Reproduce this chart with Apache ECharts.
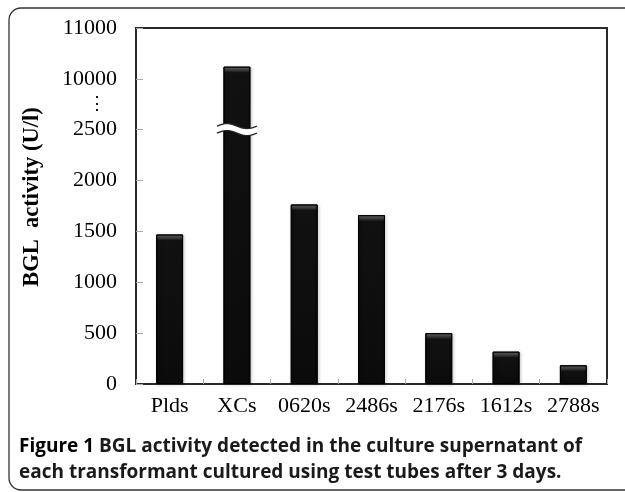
<!DOCTYPE html>
<html><head><meta charset="utf-8">
<script src="https://cdn.jsdelivr.net/npm/echarts@6/dist/echarts.min.js"></script>
<style>html,body{margin:0;padding:0;background:#fff}#c{width:625px;height:492px}</style>
</head><body><div id="c"></div>
<script>
const categories = ['Plds', 'XCs', '0620s', '2486s', '2176s', '1612s', '2788s'];
const activity = [1470, 10240, 1765, 1660, 500, 318, 184];
const tickLabels = ['0', '500', '1000', '1500', '2000', '2500', '10000', '11000'];
const breakLow = 2500, breakHigh = 10000;
const yTitle = 'BGL  activity (U/l)';
const captionBold = 'Figure 1';
const captionLine1 = ' BGL activity detected in the culture supernatant of';
const captionLine2 = 'each transformant cultured using test tubes after 3 days.';

// broken-axis mapping: 0..2500 linear, 2500..10000 squeezed into one step, 10000.. half scale
function toDisplay(v) {
  if (v <= breakLow) return v;
  if (v < breakHigh) return breakLow + (v - breakLow) / (breakHigh - breakLow) * 500;
  return 3000 + (v - breakHigh) * 0.5;
}

const chart = echarts.init(document.getElementById('c'), null, {renderer: 'canvas'});
const serif = '"Liberation Serif","Times New Roman",serif';
const frameColor = '#2a2a2a';
const plotH = 492 - 28 - 108;
const yMax = 3500;

function barItem(v) {
  const d = toDisplay(v);
  const hPx = d / yMax * plotH;
  const s = Math.min(0.5, 6 / hPx);
  return {
    value: d,
    itemStyle: {
      color: {type: 'linear', x: 0, y: 0, x2: 0, y2: 1, colorStops: [
        {offset: 0, color: '#777'}, {offset: s * 0.5, color: '#444'}, {offset: s, color: '#111'}, {offset: 1, color: '#0b0b0b'}]}
    }
  };
}

chart.setOption({
  animation: false,
  backgroundColor: '#fff',
  grid: {left: 136, right: 18, top: 28, bottom: 108, show: true, borderColor: frameColor, borderWidth: 2, backgroundColor: 'transparent'},
  xAxis: {
    type: 'category', data: categories,
    axisLine: {lineStyle: {color: frameColor, width: 2}},
    axisTick: {show: true, inside: true, length: 5, lineStyle: {color: '#aaa'}},
    axisLabel: {color: '#000', fontFamily: serif, fontSize: 22, margin: 11, interval: 0, hideOverlap: false}
  },
  yAxis: {
    type: 'value', min: 0, max: yMax, interval: 500,
    axisLine: {show: true, lineStyle: {color: frameColor, width: 2}},
    axisTick: {show: true, inside: true, length: 7, lineStyle: {color: '#aaa'}},
    splitLine: {show: false},
    axisLabel: {color: '#000', fontFamily: serif, fontSize: 22, margin: 19,
      formatter: v => tickLabels[Math.round(v / 500)]}
  },
  series: [{
    type: 'bar', barWidth: '40%',
    data: activity.map(barItem),
    itemStyle: {borderColor: '#000', borderWidth: 1,
      shadowBlur: 3, shadowColor: 'rgba(0,0,0,0.35)', shadowOffsetX: 1, shadowOffsetY: 1}
  }]
});

// decorations: break mark on XCs bar, ellipsis label, axis title, caption, outer box
const bc = chart.convertToPixel({seriesIndex: 0}, ['XCs', toDisplay(2520)]);
const halfW = 20, amp = 2.5, gapPx = 7;
function wave(offset) {
  const pts = [];
  for (let i = 0; i <= 20; i++) {
    const t = i / 20;
    const x = bc[0] - halfW + t * 2 * halfW;
    const y = bc[1] + offset - amp * Math.sin(t * 2 * Math.PI);
    pts.push([x, y]);
  }
  return pts;
}
const waveTop = wave(-gapPx / 2), waveBot = wave(gapPx / 2);
const fillPts = waveTop.concat(waveBot.slice().reverse());
const dotsPos = chart.convertToPixel({yAxisIndex: 0}, 2750);

chart.setOption({
  graphic: [
    {type: 'rect', shape: {x: 9, y: 8, width: 700, height: 482, r: 12}, style: {fill: 'none', stroke: '#333', lineWidth: 1.3}, z: 0},
    {type: 'polygon', shape: {points: fillPts}, style: {fill: '#fff'}, z: 100},
    {type: 'polyline', shape: {points: waveTop}, style: {stroke: '#222', lineWidth: 1.3, fill: 'none'}, z: 101},
    {type: 'polyline', shape: {points: waveBot}, style: {stroke: '#222', lineWidth: 1.3, fill: 'none'}, z: 101},
    {type: 'text', x: 97, y: dotsPos, style: {text: '⋮', font: '18px "DejaVu Serif"', fill: '#000', align: 'center', verticalAlign: 'middle'}, z: 100},
    {type: 'text', x: 32, y: 197, rotation: Math.PI / 2, style: {text: yTitle, font: 'bold 22.5px "Liberation Serif"', fill: '#000', align: 'center', verticalAlign: 'middle'}, z: 100},
    {type: 'text', x: 19, y: 447, style: {
      text: '{b|' + captionBold + '}{n|' + captionLine1 + '}',
      rich: {b: {font: 'bold 19px "Open Sans"', fill: '#000'}, n: {font: 'bold 19px "Open Sans"', fill: '#1a1a1a'}},
      verticalAlign: 'middle'}, z: 100},
    {type: 'text', x: 19, y: 473, style: {
      text: captionLine2, font: 'bold 19px "Open Sans"', fill: '#1a1a1a', verticalAlign: 'middle'}, z: 100}
  ]
});
</script></body></html>
